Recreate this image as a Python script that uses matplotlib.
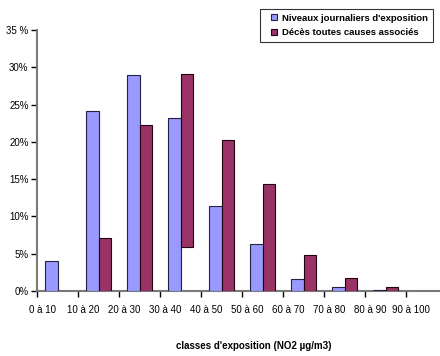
import matplotlib
matplotlib.use("Agg")
import matplotlib.pyplot as plt
import numpy as np
from matplotlib.lines import Line2D

plt.rcParams['font.family'] = ['Liberation Sans', 'DejaVu Sans']

categories = ["0 à 10", "10 à 20", "20 à 30", "30 à 40", "40 à 50",
              "50 à 60", "60 à 70", "70 à 80", "80 à 90", "90 à 100"]
niveaux = [4.0, 24.1, 28.9, 23.2, 11.4, 6.3, 1.65, 0.5, 0.2, 0.0]
deces = [0.0, 7.15, 22.3, 29.05, 20.2, 14.4, 4.85, 1.8, 0.5, 0.0]
deces_bottom = [0.0, 0.0, 0.0, 5.85, 0.0, 0.0, 0.0, 0.0, 0.0, 0.0]
yticks = [0, 5, 10, 15, 20, 25, 30, 35]
ytick_labels = ["0%", "5%", "10%", "15%", "20%", "25%", "30%", "35 %"]
series_names = ["Niveaux journaliers d'exposition", "Décès toutes causes associés"]

W, H = 440, 356
fig = plt.figure(figsize=(W / 100, H / 100), dpi=100)
ax = fig.add_axes([37 / W, (H - 291) / H, 410 / W, 261 / H])

x = np.arange(len(categories)) + 0.5
w = 0.31
blue = "#9999FF"
maroon = "#993366"
ax.bar(x - w / 2, niveaux, width=w, color=blue, edgecolor="#222244", linewidth=0.8, zorder=3)
d_heights = [d - b for d, b in zip(deces, deces_bottom)]
ax.bar(x + w / 2, d_heights, bottom=deces_bottom, width=w, color=maroon,
       edgecolor="#220011", linewidth=0.8, zorder=3)

ax.set_xlim(0, 10)
ax.set_ylim(0, 35)
ax.set_yticks(yticks)
ax.set_yticklabels(ytick_labels, fontsize=7)
ax.set_xticks(np.arange(0, 11))
ax.set_xticklabels([])
ax.set_xticks(np.arange(len(categories)) + 0.13, minor=True)
ax.set_xticklabels(categories, minor=True, fontsize=7)
ax.tick_params(axis='x', which='major', length=4, width=1, color='black', direction='out')
ax.tick_params(axis='x', which='minor', length=0, pad=10)
ax.tick_params(axis='y', length=4, width=1, color='black', direction='out', pad=2)

for s in ['top', 'right']:
    ax.spines[s].set_visible(False)
for s in ['left', 'bottom']:
    ax.spines[s].set_color('#7a7a7a')
    ax.spines[s].set_linewidth(1.5)

ax.set_xlabel("classes d'exposition (NO2 µg/m3)", fontsize=7, fontweight='bold')
ax.xaxis.set_label_coords((254 - 37) / 410, (291 - 341) / 261)

handles = [Line2D([], [], linestyle='none', marker='s', markersize=4.5,
                  markerfacecolor=blue, markeredgecolor="#222244", markeredgewidth=0.8),
           Line2D([], [], linestyle='none', marker='s', markersize=4.5,
                  markerfacecolor=maroon, markeredgecolor="#220011", markeredgewidth=0.8)]
leg = fig.legend(handles, series_names, loc='upper right',
                 bbox_to_anchor=(433 / W, 1 - 9 / H),
                 prop={'weight': 'bold', 'size': 6.8},
                 frameon=True, fancybox=False, edgecolor='black',
                 handlelength=2.0, handletextpad=-0.1,
                 labelspacing=0.55, borderpad=0.5, borderaxespad=0)
leg.get_frame().set_linewidth(0.8)

fig.savefig("out.png", dpi=100)
